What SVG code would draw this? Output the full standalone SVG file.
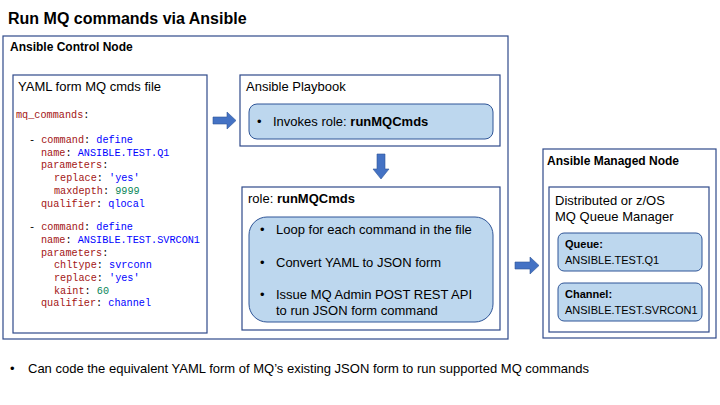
<svg xmlns="http://www.w3.org/2000/svg" width="720" height="405" viewBox="0 0 720 405">
<style>
.box{fill:#fff;stroke:#2f4a8a;stroke-width:1.2}
.blue{fill:#bdd7ee;stroke:#2f5597;stroke-width:1}
text{font-family:"Liberation Sans",Arial,sans-serif;fill:#000}
.m{font-family:"Liberation Mono","DejaVu Sans Mono",monospace;font-size:10.2px}
.k{fill:#a31515}.v{fill:#0000ff}.n{fill:#098658}
.arr{fill:#4472c4;stroke:#2f5597;stroke-width:0.6}
</style>
<rect width="720" height="405" fill="#fff"/>
<text x="8" y="24" font-size="16" font-weight="bold">Run MQ commands via Ansible</text>
<g id="control"><rect class="box" x="3" y="36" width="505" height="303"/>
<text x="10" y="51" font-size="12" font-weight="bold">Ansible Control Node</text></g>
<g id="yaml"><rect class="box" x="13" y="75" width="194" height="258"/>
<text x="18" y="91" font-size="13">YAML form MQ cmds file</text>
<g>
<text x="16" y="118" class="m"><tspan class="k">mq_commands</tspan>:</text>
<text x="29" y="143" class="m">- <tspan class="k">command</tspan>: <tspan class="v">define</tspan></text>
<text x="41" y="156" class="m"><tspan class="k">name</tspan>: <tspan class="v">ANSIBLE.TEST.Q1</tspan></text>
<text x="41" y="168" class="m"><tspan class="k">parameters</tspan>:</text>
<text x="54" y="181" class="m"><tspan class="k">replace</tspan>: <tspan class="v">'yes'</tspan></text>
<text x="54" y="194" class="m"><tspan class="k">maxdepth</tspan>: <tspan class="n">9999</tspan></text>
<text x="41" y="207" class="m"><tspan class="k">qualifier</tspan>: <tspan class="v">qlocal</tspan></text>
<text x="29" y="230" class="m">- <tspan class="k">command</tspan>: <tspan class="v">define</tspan></text>
<text x="41" y="243" class="m"><tspan class="k">name</tspan>: <tspan class="v">ANSIBLE.TEST.SVRCON1</tspan></text>
<text x="41" y="256" class="m"><tspan class="k">parameters</tspan>:</text>
<text x="54" y="268" class="m"><tspan class="k">chltype</tspan>: <tspan class="v">svrconn</tspan></text>
<text x="54" y="281" class="m"><tspan class="k">replace</tspan>: <tspan class="v">'yes'</tspan></text>
<text x="54" y="294" class="m"><tspan class="k">kaint</tspan>: <tspan class="n">60</tspan></text>
<text x="41" y="306" class="m"><tspan class="k">qualifier</tspan>: <tspan class="v">channel</tspan></text>
</g></g>
<g id="playbook"><rect class="box" x="240" y="75" width="260" height="71"/>
<text x="246" y="91" font-size="13">Ansible Playbook</text>
<rect class="blue" x="249" y="104" width="244" height="35" rx="8"/>
<text x="257" y="126" font-size="13">•</text>
<text x="273" y="126" font-size="13">Invokes role:  <tspan font-weight="bold">runMQCmds</tspan></text></g>
<g id="role"><rect class="box" x="242" y="187" width="258" height="143"/>
<text x="248" y="203" font-size="13">role: <tspan font-weight="bold">runMQCmds</tspan></text>
<rect class="blue" x="249" y="217" width="244" height="105" rx="18"/>
<g font-size="13"><text x="260" y="234">•</text><text x="276" y="234">Loop for each command in the file</text>
<text x="260" y="267">•</text><text x="276" y="267">Convert YAML to JSON form</text>
<text x="260" y="299">•</text><text x="276" y="299">Issue MQ Admin POST REST API</text>
<text x="276" y="315">to run JSON form command</text></g></g>
<g id="managed"><rect class="box" x="543" y="149" width="173" height="189"/>
<text x="547" y="165" font-size="12" font-weight="bold">Ansible Managed Node</text>
<rect class="box" x="549" y="187" width="160" height="145"/>
<text x="555" y="205" font-size="13">Distributed or z/OS</text>
<text x="555" y="221" font-size="13">MQ Queue Manager</text>
<rect class="blue" x="558" y="233" width="144" height="38" rx="6"/>
<text x="565" y="248" font-size="11" font-weight="bold">Queue:</text>
<text x="565" y="264" font-size="11">ANSIBLE.TEST.Q1</text>
<rect class="blue" x="558" y="283" width="144" height="38" rx="6"/>
<text x="565" y="298" font-size="11" font-weight="bold">Channel:</text>
<text x="565" y="314" font-size="11">ANSIBLE.TEST.SVRCON1</text></g>
<g id="connectors">
<path class="arr" d="M213,117 h14 v-5 l9,8.5 l-9,8.5 v-5 h-14 z"/>
<path class="arr" d="M377,154 h8 v15 h4 l-8,10 l-8,-10 h4 z"/>
<path class="arr" d="M515,262 h15 v-5 l9,8.5 l-9,8.5 v-5 h-15 z"/>
</g>
<text x="10" y="373" font-size="13">•</text>
<text x="28" y="373" font-size="13">Can code the equivalent YAML form of MQ’s existing JSON form to run supported MQ commands</text>
</svg>
